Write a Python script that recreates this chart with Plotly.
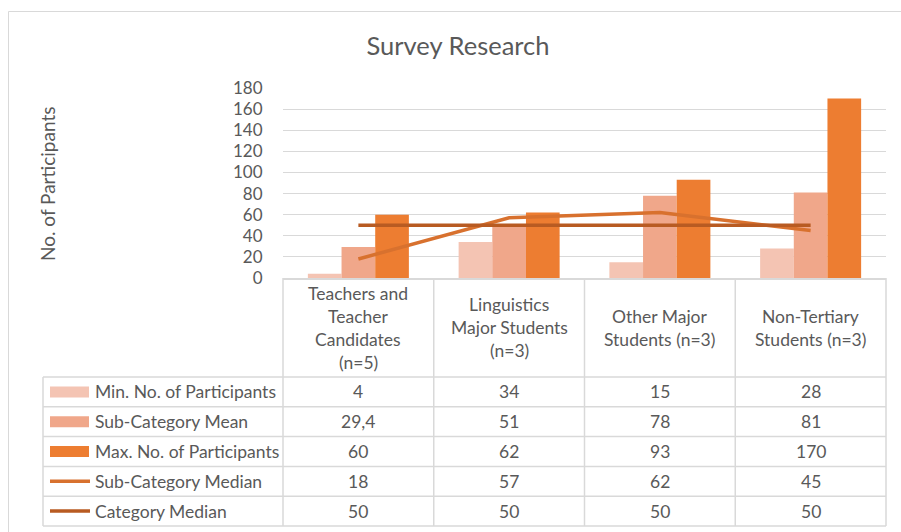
import plotly.graph_objects as go

# ---------------- data ----------------
categories = [
    "Teachers and<br>Teacher<br>Candidates<br>(n=5)",
    "Linguistics<br>Major Students<br>(n=3)",
    "Other Major<br>Students (n=3)",
    "Non-Tertiary<br>Students (n=3)",
]
series_names = [
    "Min. No. of Participants",
    "Sub-Category Mean",
    "Max. No. of Participants",
    "Sub-Category Median",
    "Category Median",
]
min_participants = [4, 34, 15, 28]
sub_category_mean = [29.4, 51, 78, 81]
max_participants = [60, 62, 93, 170]
sub_category_median = [18, 57, 62, 45]
category_median = [50, 50, 50, 50]
y_tick_values = [0, 20, 40, 60, 80, 100, 120, 140, 160, 180]
chart_title = "Survey Research"
y_axis_title = "No. of Participants"

# ---------------- style ----------------
FONT = "Lato"
TEXT = "#595959"
GRID = "#d9d9d9"
bar_colors = ["#F4C4B3", "#F0A78A", "#ED7D31"]
line_colors = ["#D8712E", "#B85B22"]

W, H = 901, 532
L, R, T, B = 283, 886, 88, 278  # plot area in page pixels
PW, PH = R - L, B - T


def px_x(px):
    return (px - L) / PW


def px_y(py):
    return (B - py) / PH


series_values = [min_participants, sub_category_mean, max_participants,
                 sub_category_median, category_median]
xs = list(range(len(categories)))

fig = go.Figure()
for name, vals, col in zip(series_names[:3], series_values[:3], bar_colors):
    fig.add_trace(go.Bar(x=xs, y=vals, name=name, marker_color=col,
                         marker_line_width=0, showlegend=False))
for name, vals, col in zip(series_names[3:], series_values[3:], line_colors):
    fig.add_trace(go.Scatter(x=xs, y=vals, name=name, mode="lines",
                             line=dict(color=col, width=3.5), showlegend=False))

shapes = []
annotations = []

# outer chart border (top and left edges only; the rest is outside the view)
shapes.append(dict(type="line", xref="paper", yref="paper",
                   x0=px_x(8.5), x1=px_x(901), y0=px_y(11.5), y1=px_y(11.5),
                   line=dict(color=GRID, width=1), layer="below"))
shapes.append(dict(type="line", xref="paper", yref="paper",
                   x0=px_x(8.5), x1=px_x(8.5), y0=px_y(11.5), y1=px_y(532),
                   line=dict(color=GRID, width=1), layer="below"))

# table geometry
header_bottom = 377
row_h = 29.8
n_rows = len(series_names)
row_edges = [header_bottom + row_h * k for k in range(n_rows + 1)]
table_left = 43
col_edges = [L + PW * k / len(categories) for k in range(len(categories) + 1)]

for ye in row_edges:
    shapes.append(dict(type="line", xref="paper", yref="paper",
                       x0=px_x(table_left), x1=px_x(R), y0=px_y(ye), y1=px_y(ye),
                       line=dict(color=GRID, width=1.5)))
for xe in col_edges:
    shapes.append(dict(type="line", xref="paper", yref="paper",
                       x0=px_x(xe), x1=px_x(xe), y0=px_y(B), y1=px_y(row_edges[-1]),
                       line=dict(color=GRID, width=1.5)))
shapes.append(dict(type="line", xref="paper", yref="paper",
                   x0=px_x(table_left), x1=px_x(table_left),
                   y0=px_y(row_edges[0]), y1=px_y(row_edges[-1]),
                   line=dict(color=GRID, width=1.5)))

TF = 17.5
header_mid = (B + header_bottom) / 2
for i, cat in enumerate(categories):
    lines = cat.split("<br>")
    n = len(lines)
    for j, ln in enumerate(lines):
        yc = header_mid + (j - (n - 1) / 2) * 23
        annotations.append(dict(x=i, xref="x", y=px_y(yc), yref="paper",
                                text=ln, showarrow=False,
                                font=dict(family=FONT, size=TF, color=TEXT),
                                xanchor="center", yanchor="middle"))


def fmt(v):
    if float(v).is_integer():
        return str(int(v))
    return str(v).replace(".", ",")


for r, (name, vals) in enumerate(zip(series_names, series_values)):
    yc = (row_edges[r] + row_edges[r + 1]) / 2
    if r < 3:
        shapes.append(dict(type="rect", xref="paper", yref="paper",
                           x0=px_x(50), x1=px_x(89), y0=px_y(yc - 5.5), y1=px_y(yc + 5.5),
                           fillcolor=bar_colors[r], line=dict(width=0)))
    else:
        shapes.append(dict(type="line", xref="paper", yref="paper",
                           x0=px_x(50), x1=px_x(90), y0=px_y(yc), y1=px_y(yc),
                           line=dict(color=line_colors[r - 3], width=3.5)))
    annotations.append(dict(x=px_x(93), xref="paper", y=px_y(yc), yref="paper",
                            text=name, showarrow=False, xanchor="left", yanchor="middle",
                            font=dict(family=FONT, size=TF, color=TEXT)))
    for i, v in enumerate(vals):
        annotations.append(dict(x=i, xref="x", y=px_y(yc), yref="paper",
                                text=fmt(v), showarrow=False,
                                xanchor="center", yanchor="middle",
                                font=dict(family=FONT, size=TF, color=TEXT)))

annotations.append(dict(x=px_x(47), xref="paper", y=px_y(184), yref="paper",
                        text=y_axis_title, textangle=-90, showarrow=False,
                        xanchor="center", yanchor="middle",
                        font=dict(family=FONT, size=19, color=TEXT)))

fig.update_layout(
    width=W, height=H,
    margin=dict(l=L, r=W - R, t=T, b=H - B, pad=0),
    paper_bgcolor="white", plot_bgcolor="white",
    barmode="group", bargap=0.33, bargroupgap=0,
    title=dict(text=chart_title, x=px_x(458), xref="paper", xanchor="center",
               y=1 - 46 / H, yanchor="middle",
               font=dict(family=FONT, size=25.5, color=TEXT)),
    xaxis=dict(range=[-0.5, len(categories) - 0.5], showticklabels=False,
               showgrid=False, zeroline=False, showline=True,
               linecolor=GRID, linewidth=1.5, ticks=""),
    yaxis=dict(range=[0, 180], tickvals=y_tick_values, showgrid=True,
               gridcolor=GRID, gridwidth=1.2, zeroline=False, showline=False,
               ticks="outside", ticklen=16, tickcolor="rgba(0,0,0,0)",
               tickfont=dict(family=FONT, size=17, color=TEXT)),
    shapes=shapes,
    annotations=annotations,
    showlegend=False,
)

fig.write_html(
    "out.html",
    config={"displayModeBar": False},
    post_script="document.body.style.margin='0';document.body.style.overflow='hidden';",
)
